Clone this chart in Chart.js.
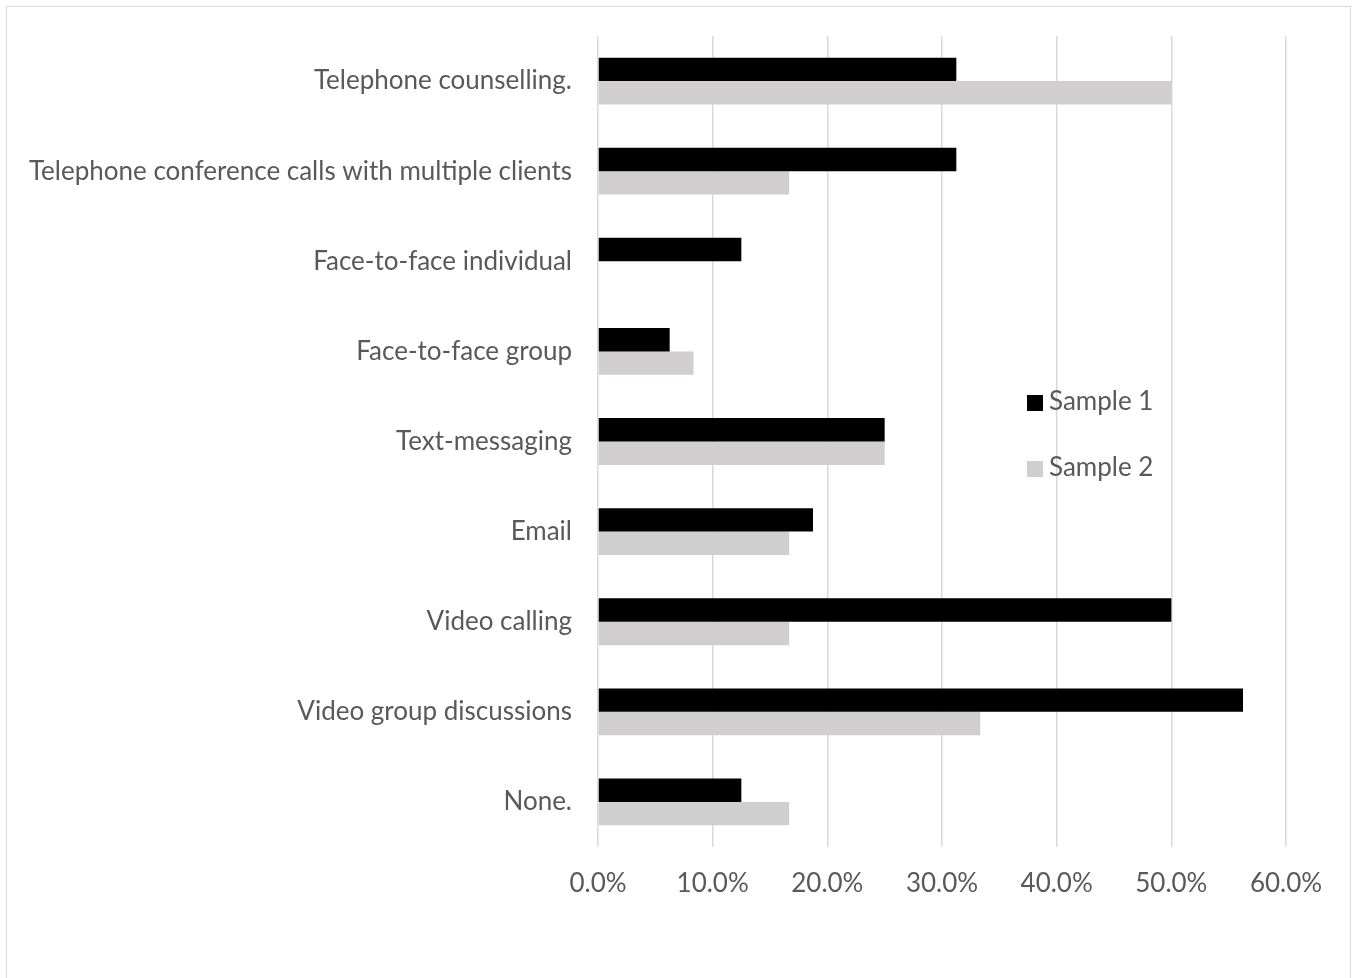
<!DOCTYPE html>
<html>
<head>
<meta charset="utf-8">
<script src="https://cdn.jsdelivr.net/npm/chart.js@4/dist/chart.umd.min.js"></script>
<style>
html,body{margin:0;padding:0;background:#fff;}
#wrap{position:absolute;left:0;top:0;width:1357px;height:978px;}
#frame{position:absolute;left:6px;top:6px;width:1345px;height:980px;border:1.5px solid #d9d9d9;box-sizing:border-box;}
canvas{position:absolute;left:0;top:0;}
</style>
</head>
<body>
<div id="wrap"><div id="frame"></div><canvas id="c" width="1357" height="978"></canvas></div>
<script>
const categories = [
  "Telephone counselling.",
  "Telephone conference calls with multiple clients",
  "Face-to-face individual",
  "Face-to-face group",
  "Text-messaging",
  "Email",
  "Video calling",
  "Video group discussions",
  "None."
];
const sample1 = [31.25, 31.25, 12.5, 6.25, 25.0, 18.75, 50.0, 56.25, 12.5];
const sample2 = [50.0, 16.67, 0, 8.33, 25.0, 16.67, 16.67, 33.33, 16.67];
const seriesNames = ["Sample 1", "Sample 2"];
const xTicks = [0, 10, 20, 30, 40, 50, 60];

const FONT = "Lato, 'Open Sans', sans-serif";
const TEXT = "#595959";

const legendPlugin = {
  id: 'floatLegend',
  afterDraw(chart) {
    const ctx = chart.ctx;
    const items = chart.data.datasets;
    const pos = [[1027, 395], [1027, 461]];
    ctx.save();
    ctx.font = "26px " + FONT;
    ctx.textBaseline = "middle";
    ctx.textAlign = "left";
    items.forEach((ds, i) => {
      const [x, y] = pos[i];
      ctx.fillStyle = ds.backgroundColor;
      ctx.fillRect(x, y, 16, 16);
      ctx.fillStyle = TEXT;
      ctx.fillText(ds.label, x + 22, y + 7);
    });
    ctx.restore();
  }
};

new Chart(document.getElementById('c'), {
  type: 'bar',
  data: {
    labels: categories,
    datasets: [
      { label: seriesNames[0], data: sample1, backgroundColor: "#000000", categoryPercentage: 0.52, barPercentage: 1.0 },
      { label: seriesNames[1], data: sample2, backgroundColor: "#d0cece", categoryPercentage: 0.52, barPercentage: 1.0 }
    ]
  },
  options: {
    indexAxis: 'y',
    responsive: false,
    animation: false,
    layout: { padding: { top: 36, right: 71, left: 0, bottom: 0 } },
    plugins: { legend: { display: false }, tooltip: { enabled: false } },
    scales: {
      x: {
        min: 0, max: 60,
        afterBuildTicks(scale) { scale.ticks = xTicks.map(v => ({ value: v })); },
        afterFit(scale) { scale.height = 131; scale.paddingLeft = 0; scale.paddingRight = 0; },
        grid: { color: "#d9d9d9", lineWidth: 1.5, drawTicks: false },
        border: { display: false },
        ticks: {
          padding: 21,
          color: TEXT,
          font: { family: FONT, size: 26 },
          callback: v => v.toFixed(1) + "%"
        }
      },
      y: {
        afterFit(scale) { scale.width = 598; scale.paddingTop = 0; scale.paddingBottom = 0; },
        grid: { display: false, drawTicks: false },
        border: { display: false },
        ticks: {
          padding: 26,
          color: TEXT,
          font: { family: FONT, size: 26 },
          autoSkip: false
        }
      }
    }
  },
  plugins: [legendPlugin]
});
</script>
</body>
</html>
